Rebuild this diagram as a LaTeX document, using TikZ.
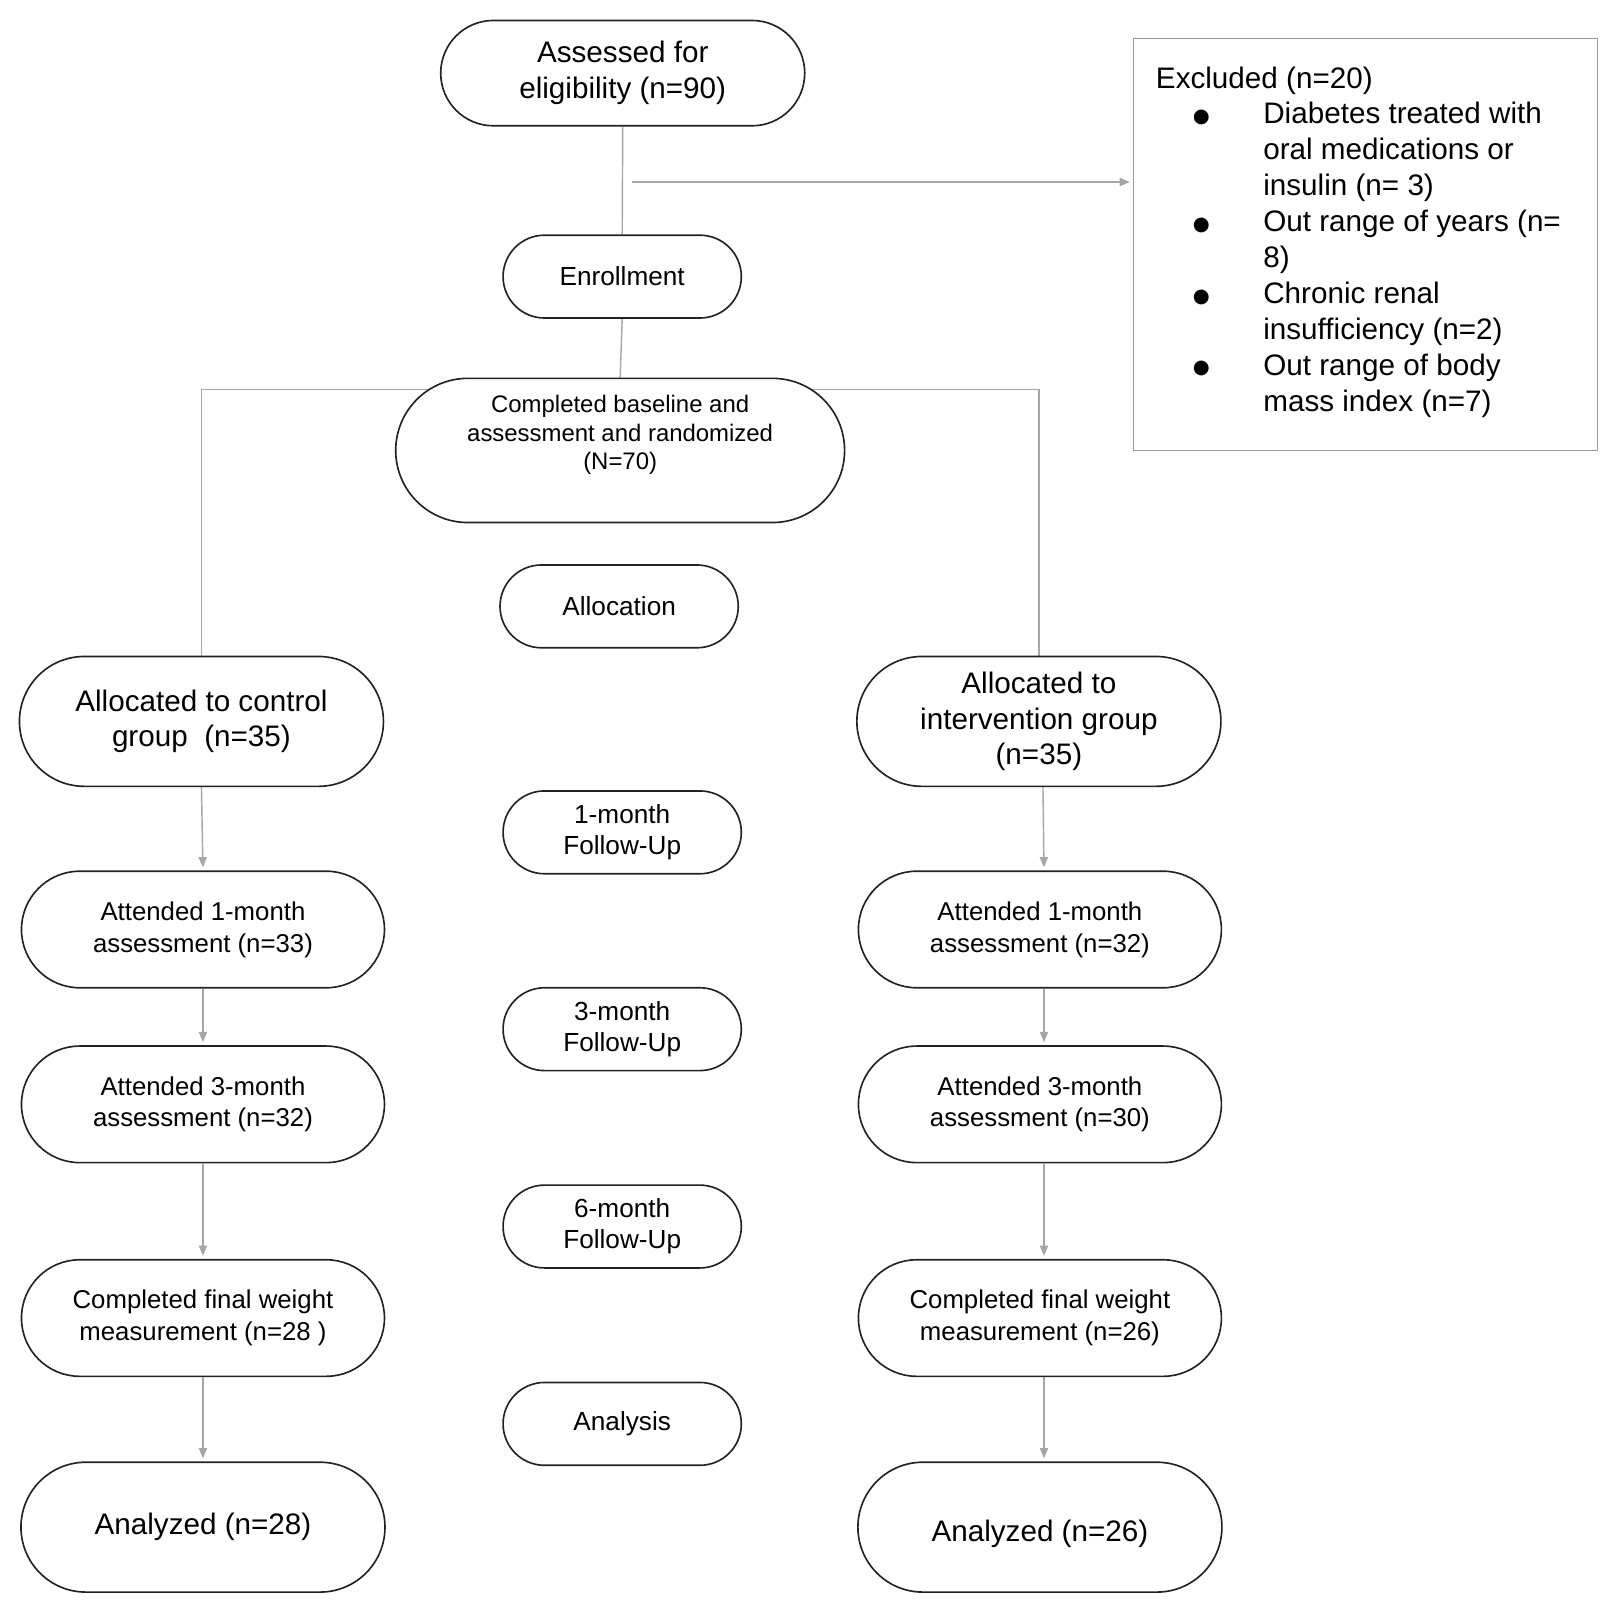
\documentclass[tikz,border=0pt]{standalone}
\usepackage{fontspec}
\setmainfont{Liberation Sans}
\newfontfamily\dejavu{DejaVu Sans}
\usetikzlibrary{arrows.meta,backgrounds}
\definecolor{boxline}{HTML}{222222}
\definecolor{conn}{HTML}{A6A6A6}
\definecolor{exline}{HTML}{9A9A9A}
\newcommand{\bulletmark}{\makebox[52.5pt][l]{\hspace*{18pt}\raisebox{0.6pt}{\dejavu\fontsize{9.5}{9.5}\selectfont ●}}}
\begin{document}
\begin{tikzpicture}[x=0.5pt,y=-0.5pt,
  pillbase/.style={draw=boxline, line width=0.8pt, fill=white, align=center, inner sep=0pt},
  assesspill/.style={pillbase, minimum width=178pt, minimum height=51.5pt, rounded corners=25.75pt, font=\fontsize{14.5}{17.5}\selectfont},
  bigpill/.style={pillbase, minimum width=178pt, minimum height=63.5pt, rounded corners=31.75pt, font=\fontsize{14.5}{17.5}\selectfont},
  attpill/.style={pillbase, minimum width=177.5pt, minimum height=57pt, rounded corners=28.5pt, font=\fontsize{12.6}{15.5}\selectfont},
  midpill/.style={pillbase, minimum width=116.5pt, minimum height=40.5pt, rounded corners=20.25pt, font=\fontsize{12.8}{15}\selectfont},
  randpill/.style={pillbase, minimum width=219.5pt, minimum height=70.5pt, rounded corners=35.25pt},
  randtext/.style={align=center, font=\fontsize{11.7}{14}\selectfont, inner sep=0pt},
  exclbox/.style={draw=exline, line width=0.5pt, inner xsep=11pt, inner ysep=0pt, font=\fontsize{14.5}{17.55}\selectfont},
  conline/.style={draw=conn, line width=0.7pt},
  arr/.style={conline, -{Triangle[length=5pt,width=4pt]}, shorten >=1.5pt}
]
\useasboundingbox (0,0) rectangle (1567.7,1565.8);

% central column
\node[assesspill] (assess) at (609,71.5) {Assessed for\\eligibility (n=90)};
\node[midpill] (enroll) at (608.5,270.5) {Enrollment};
\node[randpill, label={[randtext, yshift=7.5pt]center:{Completed baseline and\\assessment and randomized\\(N=70)}}] (rand) at (606.5,440.5) {};
\node[midpill] (alloc) at (605.5,593) {Allocation};
\node[midpill] (fu1) at (608.5,814) {1-month\\Follow-Up};
\node[midpill] (fu3) at (608.5,1006.5) {3-month\\Follow-Up};
\node[midpill] (fu6) at (608.5,1199.5) {6-month\\Follow-Up};
\node[midpill] (ana) at (608.5,1392.5) {Analysis};

% control column
\node[bigpill] (ctl) at (197,705.5) {Allocated to control\\group\ \ (n=35)};
\node[attpill] (c1) at (198.5,909) {Attended 1-month\\assessment (n=33)};
\node[attpill] (c3) at (198.5,1080) {Attended 3-month\\assessment (n=32)};
\node[attpill] (c6) at (198.5,1289) {Completed final weight\\measurement (n=28 )};
\node[bigpill] (ca) at (198.5,1493.5) {Analyzed (n=28)};

% intervention column
\node[bigpill] (intv) at (1016,705.5) {Allocated to\\intervention group\\(n=35)};
\node[attpill] (i1) at (1017,909) {Attended 1-month\\assessment (n=32)};
\node[attpill] (i3) at (1017,1080) {Attended 3-month\\assessment (n=30)};
\node[attpill] (i6) at (1017,1289) {Completed final weight\\measurement (n=26)};
\node[bigpill, label={[font=\fontsize{14.5}{17.5}\selectfont, inner sep=0pt, yshift=-3.5pt]center:{Analyzed (n=26)}}] (ia) at (1017,1493.5) {};

% excluded box
\node[exclbox, anchor=north west] (excl) at (1108,37) {%
\begin{minipage}[c][201.5pt][t]{205pt}\raggedright
\vspace*{13.8pt}%
Excluded (n=20)\\
\bulletmark Diabetes treated with\\
\hspace*{52.5pt}oral medications or\\
\hspace*{52.5pt}insulin (n= 3)\\
\bulletmark Out range of years (n=\\
\hspace*{52.5pt}8)\\
\bulletmark Chronic renal\\
\hspace*{52.5pt}insufficiency (n=2)\\
\bulletmark Out range of body\\
\hspace*{52.5pt}mass index (n=7)
\end{minipage}};

\coordinate (exstart) at (618,178);
\coordinate (split) at (606,381);

\begin{scope}[on background layer]
\draw[conline] (assess.south) -- (enroll.north);
\draw[conline] (enroll.south) -- (rand.north);
\draw[conline] (ctl.north) |- (split) -| (intv.north);
\end{scope}

\draw[arr] (exstart) -- (exstart -| excl.west);

\draw[arr] (ctl.south) -- (c1.north);
\draw[arr] (c1.south) -- (c3.north);
\draw[arr] (c3.south) -- (c6.north);
\draw[arr] (c6.south) -- (ca.north);

\draw[arr] ([xshift=2pt]intv.south) -- ([xshift=2pt]i1.north);
\draw[arr] ([xshift=2pt]i1.south) -- ([xshift=2pt]i3.north);
\draw[arr] ([xshift=2pt]i3.south) -- ([xshift=2pt]i6.north);
\draw[arr] ([xshift=2pt]i6.south) -- ([xshift=2pt]ia.north);
\end{tikzpicture}
\end{document}
